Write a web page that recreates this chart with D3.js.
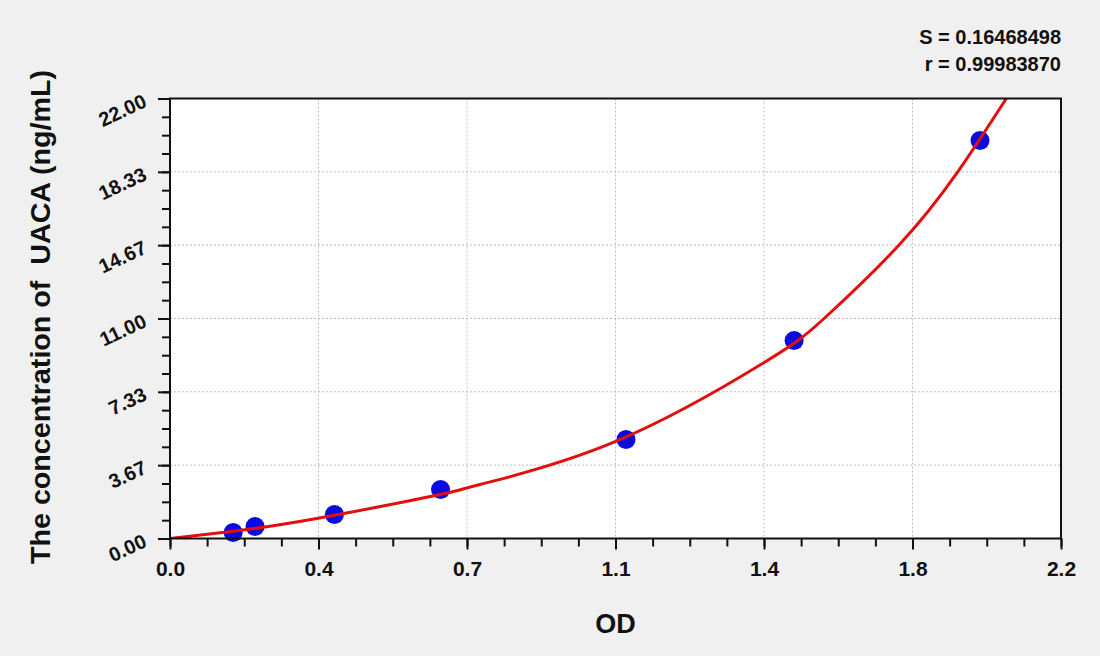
<!DOCTYPE html>
<html>
<head>
  <meta charset="utf-8">
  <title>UACA standard curve</title>
  <script src="https://cdn.jsdelivr.net/npm/d3@7"></script>
  <style>
    body { margin: 0; background: #f0f0f0; }
    svg text { font-family: "Liberation Sans", Arial, sans-serif; font-weight: bold; fill: #111; }
  </style>
</head>
<body>
  <svg id="chart" width="1100" height="656"></svg>
  <script>
    // standard points (OD, concentration)
    const odValues = [0.156, 0.21, 0.406, 0.668, 1.126, 1.541, 2.0];
    const concValues = [0.3, 0.6, 1.2, 2.45, 4.95, 9.9, 19.9];

    // fitted curve
    const curveOD = [0, 0.156, 0.362, 0.667, 0.765, 1.099, 1.467, 1.615, 1.8, 1.945, 2.065];
    const curveConc = [0, 0.36, 1.0, 2.2, 2.7, 4.84, 8.8, 11.0, 14.67, 18.33, 22.0];

    const xLabels = ["0.0", "0.4", "0.7", "1.1", "1.4", "1.8", "2.2"];
    const yLabels = ["0.00", "3.67", "7.33", "11.00", "14.67", "18.33", "22.00"];
    const stats = ["S = 0.16468498", "r = 0.99983870"];

    const pLeft = 170, pRight = 1061, pTop = 98.5, pBottom = 538.5;

    const x = d3.scaleLinear().domain([0, 2.2]).range([pLeft, pRight]);
    const y = d3.scaleLinear().domain([0, 22]).range([pBottom, pTop]);

    const xMajor = d3.range(xLabels.length).map(i => i * 2.2 / 6);
    const yMajor = d3.range(yLabels.length).map(i => i * 22 / 6);
    const xMinor = d3.range(25).map(i => i * 2.2 / 24);
    const yMinor = d3.range(25).map(i => i * 22 / 24);

    const svg = d3.select('#chart');

    svg.append('defs').append('clipPath').attr('id', 'plotClip')
      .append('rect')
      .attr('x', pLeft).attr('y', pTop)
      .attr('width', pRight - pLeft).attr('height', pBottom - pTop);

    svg.append('rect')
      .attr('x', pLeft).attr('y', pTop)
      .attr('width', pRight - pLeft).attr('height', pBottom - pTop)
      .style('fill', 'white');

    // dotted grid
    svg.append('g')
      .selectAll('line')
      .data(xMajor.slice(1, -1))
      .join('line')
      .attr('x1', d => x(d)).attr('x2', d => x(d))
      .attr('y1', pTop).attr('y2', pBottom)
      .style('stroke', '#bcbcbc').style('stroke-dasharray', '2,2');

    svg.append('g')
      .selectAll('line')
      .data(yMajor.slice(1, -1))
      .join('line')
      .attr('x1', pLeft).attr('x2', pRight)
      .attr('y1', d => y(d)).attr('y2', d => y(d))
      .style('stroke', '#bcbcbc').style('stroke-dasharray', '2,2');

    // minor ticks
    svg.append('g')
      .attr('transform', `translate(0,${pBottom})`)
      .call(d3.axisBottom(x).tickValues(xMinor).tickSize(8).tickFormat(''))
      .call(g => g.select('.domain').remove())
      .selectAll('line').style('stroke', '#111').style('stroke-width', 2);

    svg.append('g')
      .attr('transform', `translate(${pLeft},0)`)
      .call(d3.axisLeft(y).tickValues(yMinor).tickSize(8).tickFormat(''))
      .call(g => g.select('.domain').remove())
      .selectAll('line').style('stroke', '#111').style('stroke-width', 2);

    // major ticks + labels
    const xAxis = svg.append('g')
      .attr('transform', `translate(0,${pBottom})`)
      .call(d3.axisBottom(x).tickValues(xMajor).tickSize(11).tickFormat((d, i) => xLabels[i]));
    xAxis.select('.domain').remove();
    xAxis.selectAll('line').style('stroke', '#111').style('stroke-width', 2);
    xAxis.selectAll('text')
      .attr('y', 37).attr('dy', null)
      .style('font-size', '21px').style('fill', '#111');

    const yAxis = svg.append('g')
      .attr('transform', `translate(${pLeft},0)`)
      .call(d3.axisLeft(y).tickValues(yMajor).tickSize(12).tickFormat((d, i) => yLabels[i]));
    yAxis.select('.domain').remove();
    yAxis.selectAll('line').style('stroke', '#111').style('stroke-width', 2);
    yAxis.selectAll('text')
      .attr('x', null).attr('dy', null)
      .attr('transform', 'translate(-22,7) rotate(-25)')
      .style('text-anchor', 'end')
      .style('font-size', '20px').style('fill', '#111');

    // points
    const pts = odValues.map((v, i) => ({ od: v, c: concValues[i] }));
    svg.append('g')
      .selectAll('circle')
      .data(pts)
      .join('circle')
      .attr('cx', d => x(d.od))
      .attr('cy', d => y(d.c))
      .attr('r', 9.5)
      .style('fill', '#0b0bdf');

    // fitted curve
    const curve = curveOD.map((v, i) => [v, curveConc[i]]);
    svg.append('path')
      .datum(curve)
      .attr('clip-path', 'url(#plotClip)')
      .attr('d', d3.line().x(d => x(d[0])).y(d => y(d[1])).curve(d3.curveNatural))
      .style('fill', 'none')
      .style('stroke', '#e30f0f')
      .style('stroke-width', 3);

    // frame
    svg.append('rect')
      .attr('x', pLeft).attr('y', pTop)
      .attr('width', pRight - pLeft).attr('height', pBottom - pTop)
      .style('fill', 'none').style('stroke', '#111').style('stroke-width', 2);

    // titles
    svg.append('text')
      .attr('x', (pLeft + pRight) / 2).attr('y', 633)
      .style('text-anchor', 'middle').style('font-size', '27px')
      .text('OD');

    svg.append('text')
      .attr('transform', `translate(50,${(564 + 70) / 2}) rotate(-90)`)
      .style('text-anchor', 'middle').style('font-size', '27px')
      .style('white-space', 'pre')
      .attr('textLength', 494).attr('lengthAdjust', 'spacingAndGlyphs')
      .text('The concentration of  UACA (ng/mL)');

    svg.append('g')
      .selectAll('text')
      .data(stats)
      .join('text')
      .attr('x', pRight).attr('y', (d, i) => 44 + i * 27)
      .style('text-anchor', 'end').style('font-size', '20px')
      .text(d => d);
  </script>
</body>
</html>
